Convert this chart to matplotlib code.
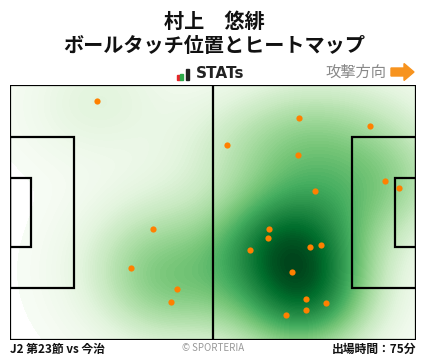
import numpy as np
import matplotlib
matplotlib.use("Agg")
import matplotlib.pyplot as plt
from matplotlib.patches import Rectangle, Polygon

plt.rcParams['font.family'] = ['Noto Sans CJK JP', 'DejaVu Sans']

# ball touch positions (metres, pitch 105 x 68, attacking to the right)
touch_x = [74.8, 93.2, 56.2, 74.6, 97.1, 100.5, 79.0, 67.1, 66.8, 62.1, 80.5,
           77.7, 73.0, 76.6, 81.8, 76.6, 71.5, 22.6, 37.1, 31.4, 43.3, 41.7]
touch_y = [59.1, 57.0, 51.9, 49.3, 42.3, 40.5, 39.7, 29.5, 27.1, 23.9, 25.3,
           24.7, 18.1, 10.9, 9.8, 7.9, 6.6, 63.7, 29.5, 19.1, 13.6, 10.1]

player = "村上　悠緋"
subtitle = "ボールタッチ位置とヒートマップ"
match_label = "J2 第23節 vs 今治"
minutes_label = "出場時間：75分"

L, W = 105.0, 68.0

fig = plt.figure(figsize=(4.28, 3.59), dpi=100)
fig.patch.set_facecolor("white")

# pitch axes
ax = fig.add_axes([10 / 428, 19 / 359, 406 / 428, 255 / 359])
ax.set_xlim(0, L)
ax.set_ylim(0, W)
ax.axis("off")

# gaussian kde (scott's rule, full covariance)
pts = np.vstack([touch_x, touch_y])
n = pts.shape[1]
factor = n ** (-1.0 / 6)
cov = np.cov(pts) * factor ** 2
inv = np.linalg.inv(cov)
gx, gy = np.meshgrid(np.linspace(0, L, 300), np.linspace(0, W, 200))
dens = np.zeros_like(gx)
for px, py in zip(touch_x, touch_y):
    dx = gx - px
    dy = gy - py
    q = inv[0, 0] * dx * dx + 2 * inv[0, 1] * dx * dy + inv[1, 1] * dy * dy
    dens += np.exp(-0.5 * q)
dens /= dens.max()
levels = np.linspace(0.012, 1.0, 90)
ax.contourf(gx, gy, dens, levels=levels, cmap="Greens", extend="max", zorder=1)

# pitch lines
lc = "black"
lw = 1.6
ax.add_patch(Rectangle((0, 0), L, W, fill=False, ec=lc, lw=lw, zorder=3))
ax.plot([L / 2, L / 2], [0, W], color=lc, lw=lw, zorder=3)
for x0, sgn in [(0, 1), (L, -1)]:
    ax.add_patch(Rectangle((x0, W / 2 - 20.16), sgn * 16.5, 40.32, fill=False,
                           ec=lc, lw=lw, zorder=3))
    ax.add_patch(Rectangle((x0, W / 2 - 9.16), sgn * 5.5, 18.32, fill=False,
                           ec=lc, lw=lw, zorder=3))

ax.scatter(touch_x, touch_y, s=20, color="#ff8000", zorder=4, linewidths=0)

# overlay in pixel coordinates for header / footer
ov = fig.add_axes([0, 0, 1, 1], zorder=-1)
ov.set_xlim(0, 428)
ov.set_ylim(359, 0)
ov.axis("off")

ov.text(214, 21, player, ha="center", va="center", fontsize=14.5,
        fontweight="bold", color="#111111")
ov.text(214, 46, subtitle, ha="center", va="center", fontsize=14.5,
        fontweight="bold", color="#111111")

# STATs logo
ov.add_patch(Rectangle((177, 75), 3, 4.5, color="#e8262a"))
ov.add_patch(Rectangle((180.5, 74), 3, 5.5, color="#2eaa4a"))
ov.add_patch(Rectangle((186, 69), 3, 10.5, color="#222222"))
ov.text(196, 73.5, "STATs", ha="left", va="center", fontsize=11,
        fontweight="bold", color="#222222", family="DejaVu Sans")

# attack direction
ov.text(386, 72, "攻撃方向", ha="right", va="center", fontsize=11,
        color="#888888")
ov.add_patch(Polygon([(391, 68), (404, 68), (404, 63.5), (414, 72),
                      (404, 80.5), (404, 76), (391, 76)], closed=True,
                     color="#f7931e"))

# footer
ov.text(10, 349, match_label, ha="left", va="center", fontsize=8.5,
        fontweight="bold", color="#111111")
ov.text(213, 348, "© SPORTERIA", ha="center", va="center", fontsize=7,
        color="#999999")
ov.text(416, 349, minutes_label, ha="right", va="center", fontsize=8.5,
        fontweight="bold", color="#111111")

fig.savefig("out.png", dpi=100)
